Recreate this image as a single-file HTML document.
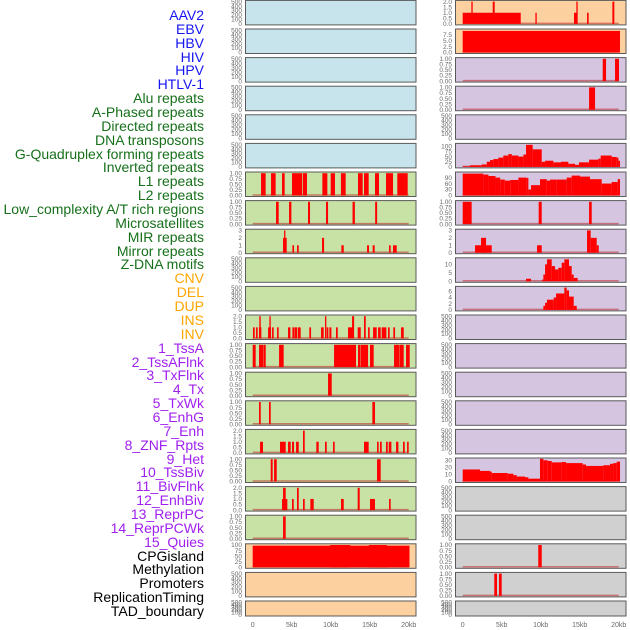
<!DOCTYPE html>
<html><head><meta charset="utf-8"><style>
html,body{margin:0;padding:0;background:#fff;width:630px;height:630px;overflow:hidden}
#labels{position:absolute;left:0;top:0;width:204px}
.lb{position:absolute;right:0;font:14px "Liberation Sans",sans-serif;white-space:nowrap;line-height:14px}
svg{position:absolute;left:0;top:0}
</style></head><body>
<div id="labels"></div>
<svg id="chart" width="630" height="630"></svg>
<script>
const labelNames = ["AAV2","EBV","HBV","HIV","HPV","HTLV-1","Alu repeats","A-Phased repeats","Directed repeats","DNA transposons","G-Quadruplex forming repeats","Inverted repeats","L1 repeats","L2 repeats","Low_complexity A/T rich regions","Microsatellites","MIR repeats","Mirror repeats","Z-DNA motifs","CNV","DEL","DUP","INS","INV","1_TssA","2_TssAFlnk","3_TxFlnk","4_Tx","5_TxWk","6_EnhG","7_Enh","8_ZNF_Rpts","9_Het","10_TssBiv","11_BivFlnk","12_EnhBiv","13_ReprPC","14_ReprPCWk","15_Quies","CPGisland","Methylation","Promoters","ReplicationTiming","TAD_boundary"];
const labelGroups = [6,13,5,15,5];
const groupColors = ["#1515f0","#16701a","#ffa500","#a020f0","#000000"];
const xTicks = [0,5,10,15,20];
const xTickLabels = ["0","5kb","10kb","15kb","20kb"];
const bgLeft = ["b","b","b","b","b","b","g","g","g","g","g","g","g","g","g","g","g","g","g","p","p","p"];
const bgRight = ["p","p","u","u","u","u","u","u","u","u","u","u","u","u","u","u","u","k","k","k","k","k"];
const maxLeft = [500,500,500,500,500,500,1,1,3,500,500,2,1,1,1,2,1,2,1,100,500,500];
const maxRight = [2,9.4,1,1,500,108,112,1,3,13.2,7.2,500,500,500,500,500,31.5,500,500,1,1,500];
const T500=["0","100","200","300","400","500"],T1=["0.00","0.25","0.50","0.75","1.00"],T2=["0.0","0.5","1.0","1.5","2.0"],T3=["0","1","2","3"],T100=["0","25","50","75","100"];
const ticksLeft = [T500,T500,T500,T500,T500,T500,T1,T1,T3,T500,T500,T2,T1,T1,T1,T2,T1,T2,T1,T100,T500,T500];
const ticksRight = [T2,["0.0","2.5","5.0","7.5"],T1,T1,T500,T100,["0","30","60","90"],T1,T3,["0","5","10"],["0","2","4","6"],T500,T500,T500,T500,T500,["0","10","20","30"],T500,T500,T1,T1,T500];
// segments: [startKb, endKb, value]
const segLeft = [[],[],[],[],[],[],
[[1.07,1.66,1],[2.35,2.94,1],[3.76,4.1,1],[5.04,6.32,1],[6.41,6.96,1],[8.93,9.57,1],[10.0,10.55,1],[11.31,11.92,1],[13.5,14.1,1],[14.27,14.87,1],[15.68,16.19,1],[17.09,17.99,1],[18.54,19.87,1]],
[[2.99,3.33,1],[4.66,4.96,1],[7.09,7.35,1],[9.4,9.66,1],[12.8,13.1,1],[15.7,15.95,1]],
[[3.89,4.36,2],[4.02,4.19,3],[5.09,5.3,1],[5.68,5.9,1],[8.89,9.15,2],[11.37,11.67,1],[14.66,14.91,1],[15.38,15.64,1],[17.48,17.69,1],[17.99,18.46,1]],
[],[],
[[0.04,0.26,1],[0.43,0.64,1],[0.81,1.11,1],[0.85,1.03,2],[1.97,2.35,1],[2.14,2.31,2],[2.48,2.69,1],[3.12,3.33,1],[4.53,4.83,1],[5.09,5.34,1],[5.38,5.68,1],[5.77,6.15,1],[7.26,7.48,1],[8.76,9.1,1],[9.27,9.44,2],[9.49,9.7,1],[9.83,10.09,1],[10.68,10.9,1],[12.22,12.78,1],[12.74,13.0,2],[13.46,13.85,1],[14.27,14.49,2],[14.79,15.0,1],[15.43,15.9,1],[16.07,16.41,1],[16.54,17.14,1],[17.35,17.56,1],[18.03,18.25,1],[19.02,19.36,1]],
[[0,0.38,1],[0.81,1.37,1],[1.41,1.67,1],[3.38,3.97,1],[10.43,13.25,1],[13.5,13.8,1],[13.85,14.79,1],[15.04,15.51,1],[18.12,18.76,1],[18.8,19.36,1],[19.66,20.13,1]],
[[9.66,10.13,1]],
[[0.81,1.03,1],[2.09,2.31,1],[15.34,15.68,1]],
[[0.94,1.32,1],[3.5,4.23,1],[4.53,4.87,1],[5.04,5.3,1],[5.56,5.9,1],[6.45,6.67,2],[8.16,8.46,1],[9.27,9.49,1],[10.3,10.51,1],[14.27,14.87,1],[15.94,16.15,1],[16.32,16.54,1],[17.09,17.31,1],[17.44,17.78,1],[18.38,18.68,1],[19.27,19.49,1],[19.79,20.0,1]],
[[2.31,2.56,1],[2.74,3.08,1],[15.94,16.41,1]],
[[3.76,4.44,1],[3.89,4.23,2],[5.04,5.26,1],[5.68,5.9,2],[6.45,6.67,1],[7.39,7.82,1],[11.32,11.67,1],[13.46,13.72,2],[15.04,15.68,1],[17.48,17.69,1]],
[[3.89,4.23,1]],
[[0,20.1,97],[9.9,12.5,100],[14.9,17.2,100]],
[],[]];
const segRight = [
[[0,7.44,1],[1.11,1.28,2],[3.85,4.1,2],[9.32,9.49,1],[14.27,14.7,1],[14.57,14.74,2],[15.94,16.15,1],[19.19,19.44,2]],
[[0,20.17,9.1]],
[[17.95,18.38,1],[19.53,20.04,1]],
[[16.2,16.97,1]],
[],
[[0,0.94,3],[0.94,2.44,8],[2.44,3.08,12],[3.08,3.5,25],[3.5,3.93,33],[3.93,4.57,38],[4.57,5.21,45],[5.21,5.85,55],[5.85,6.3,62],[6.3,7.14,55],[7.14,7.78,50],[7.78,8.12,60],[8.12,8.97,107],[8.97,10.13,85],[10.13,10.56,25],[10.56,11.62,30],[11.62,12.6,22],[12.6,13.55,25],[13.55,14.4,15],[14.4,14.91,10],[14.91,16.2,22],[16.2,17.39,35],[17.39,17.69,40],[17.69,19.1,55],[19.1,19.74,48],[19.74,19.96,45],[19.96,20.17,30]],
[[0,2.65,110],[2.65,3.3,105],[3.3,4.2,98],[4.2,4.8,90],[4.8,5.4,80],[5.4,6.1,75],[6.1,7.14,78],[7.14,8.2,90],[8.2,8.42,88],[8.42,8.76,30],[8.76,9.91,52],[9.91,10.77,82],[10.77,11.2,75],[11.2,12.05,80],[12.05,13.33,80],[13.33,13.97,90],[13.97,15.04,100],[15.04,16.32,95],[16.32,17.82,82],[17.82,19.1,60],[19.1,19.87,68],[19.87,20.17,82]],
[[0,1.15,1],[9.74,10.13,1],[16.2,16.54,1]],
[[1.58,3.72,1],[2.35,2.99,2],[9.53,10.13,1],[15.94,16.41,3],[16.41,17.18,2],[17.18,17.44,1]],
[[8.12,8.76,1.5],[10.17,10.34,1],[10.34,10.56,4],[10.56,10.81,10],[10.81,11.41,13],[11.41,11.84,9],[11.84,12.26,7],[12.26,12.69,8],[12.69,13.03,11],[13.03,13.63,13],[13.63,13.97,9],[13.97,14.23,4],[14.23,14.74,2]],
[[10.34,10.56,1.3],[10.56,10.81,2.3],[10.81,11.67,3.3],[11.67,11.97,4],[11.97,13.03,5.3],[13.03,13.33,7.2],[13.33,13.63,6.3],[13.63,14.23,4.3],[14.23,14.62,1.3]],
[],[],[],[],[],
[[0,2.22,17],[2.22,3.5,15],[3.5,3.72,14],[3.72,5.77,12],[5.77,6.5,11],[6.5,6.93,9],[6.93,7.99,7],[7.99,8.42,6],[8.42,9.91,4],[9.91,10.34,32],[10.34,10.9,30],[10.9,11.41,29],[11.41,12.69,27],[12.69,13.25,27.5],[13.25,15.38,26],[15.38,15.81,24],[15.81,18.03,22],[18.03,18.89,23],[18.89,19.32,25],[19.32,19.74,26],[19.74,20.17,28]],
[],[],
[[9.69,10.13,1]],
[[4.05,4.4,1],[4.65,5.0,1]],
[]];

const bgColors = {b:"#c7e4ec",g:"#c8e1a5",p:"#fdd09f",u:"#d5c5e1",k:"#d0d0d0"};
const NS="http://www.w3.org/2000/svg";
const svg=document.getElementById("chart");
function mk(tag,attrs){const e=document.createElementNS(NS,tag);for(const k in attrs)e.setAttribute(k,attrs[k]);return e;}

// labels
const lab=document.getElementById("labels");
let gi=0,gc=0;
labelNames.forEach((n,i)=>{
  while(gc>=labelGroups[gi]){gi++;gc=0;}
  gc++;
  const d=document.createElement("div");
  d.className="lb";
  d.textContent=n;
  d.style.top=(8+i*13.86)+"px";
  d.style.color=groupColors[gi];
  
  
  lab.appendChild(d);
});

const cols=[
 {bx:245.5,bw:170.5,x0:252.7,tx:242,bg:bgLeft,mx:maxLeft,tk:ticksLeft,sg:segLeft,name:"left"},
 {bx:455.5,bw:170.5,x0:462.7,tx:452,bg:bgRight,mx:maxRight,tk:ticksRight,sg:segRight,name:"right"}];
const kbPx=7.8;
cols.forEach(c=>{
  const xs=v=>c.x0+v*kbPx;
  for(let i=0;i<22;i++){
    const top=0.4+28.6*i;
    const h=(i===21)?15:24.5;
    const yb=top+h-1, yt=top+1.2;
    const max=c.mx[i];
    const ys=v=>yb-(v/max)*(yb-yt);
    const g=mk("g",{});
    
    
    svg.appendChild(g);
    const r=mk("rect",{x:c.bx,y:top,width:c.bw,height:h,fill:bgColors[c.bg[i]],stroke:"#5a5a5a","stroke-width":1});
    
    
    g.appendChild(r);
    if(max!==500){
      const bl=mk("line",{x1:xs(0),x2:xs(20),y1:yb-0.5,y2:yb-0.5,stroke:"rgba(190,40,40,0.55)","stroke-width":1.5});
      
      
      g.appendChild(bl);
    }
    c.sg[i].forEach(s=>{
      const b=mk("rect",{x:xs(s[0]),y:ys(s[2]),width:Math.max(0.8,xs(s[1])-xs(s[0])),height:ys(0)-ys(s[2]),fill:"#ff0000"});
      
      
      g.appendChild(b);
    });
    const tl=c.tk[i];
    tl.forEach(t=>{
      const v=parseFloat(t);
      const tx=mk("text",{x:c.tx,y:ys(v)+2.2,"text-anchor":"end","font-family":"Liberation Sans, sans-serif","font-size":6.5,fill:"#6a6a6a"});
      tx.textContent=t;
      
      
      g.appendChild(tx);
    });
  }
  xTicks.forEach((v,j)=>{
    const t=mk("text",{x:xs(v),y:627,"text-anchor":"middle","font-family":"Liberation Sans, sans-serif","font-size":7,fill:"#6a6a6a"});
    t.textContent=xTickLabels[j];
    
    
    svg.appendChild(t);
  });
});
</script>
</body></html>
